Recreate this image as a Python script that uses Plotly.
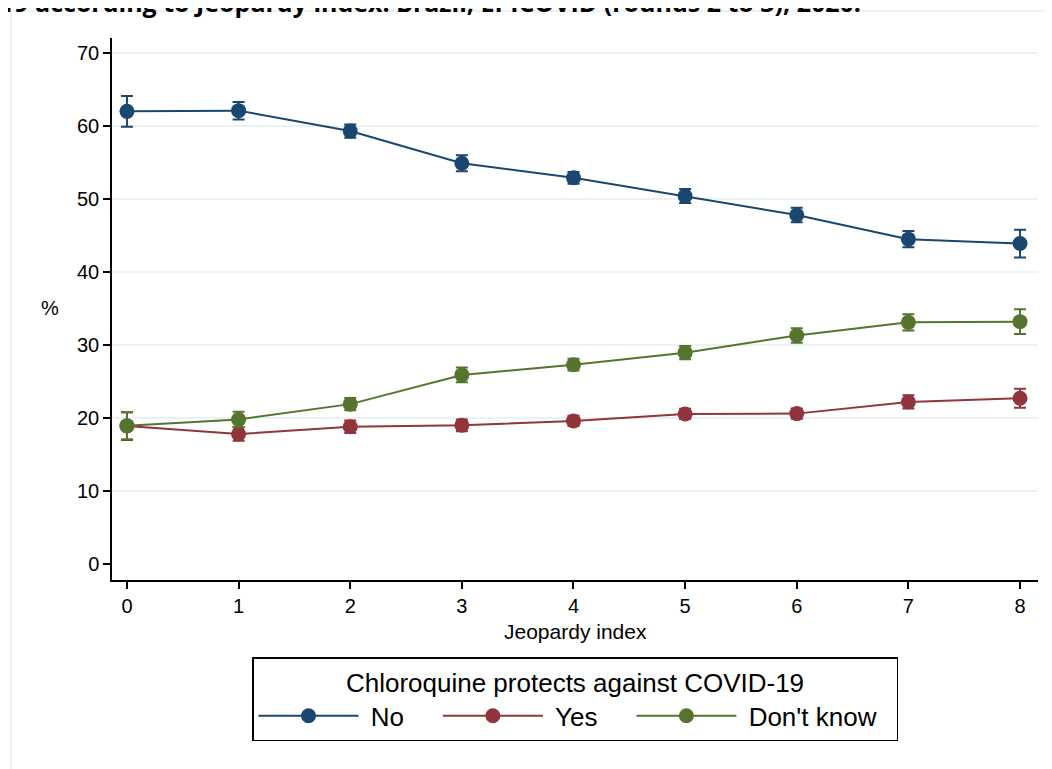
import plotly.graph_objects as go

jeopardy = [0, 1, 2, 3, 4, 5, 6, 7, 8]
no_vals = [62.0, 62.1, 59.3, 54.9, 52.9, 50.4, 47.8, 44.5, 43.9]
no_err = [2.1, 1.2, 0.9, 1.1, 0.8, 0.95, 1.0, 1.1, 1.9]
yes_vals = [18.9, 17.8, 18.8, 19.0, 19.6, 20.55, 20.6, 22.2, 22.7]
yes_err = [1.9, 0.9, 0.85, 0.8, 0.7, 0.7, 0.7, 0.9, 1.3]
dk_vals = [18.95, 19.8, 21.9, 25.9, 27.3, 28.95, 31.3, 33.1, 33.2]
dk_err = [1.85, 1.05, 0.85, 1.0, 0.8, 0.9, 1.0, 1.1, 1.7]

series_names = ["No", "Yes", "Don't know"]
colors = ["#1a476f", "#90353b", "#55752f"]
ytick_vals = [0, 10, 20, 30, 40, 50, 60, 70]
grid_vals = [10, 20, 30, 40, 50, 60, 70]

FONT = "Liberation Sans, Arial, sans-serif"
NB = "\u00a0"
# legend label padding (spacing only)
pads = [(1, 4), (1, 4), (1, 2)]

fig = go.Figure()
# invisible helper trace on yaxis2 to carry gridlines (no gridline at 0)
fig.add_trace(go.Scatter(x=[jeopardy[0]], y=[no_vals[0]], yaxis="y2", mode="markers",
                         marker=dict(opacity=0), showlegend=False, hoverinfo="skip"))
for name, vals, err, col, (pl, pr) in zip(series_names, [no_vals, yes_vals, dk_vals],
                                          [no_err, yes_err, dk_err], colors, pads):
    fig.add_trace(go.Scatter(
        x=jeopardy, y=vals, name=NB * pl + name + NB * pr, mode="lines+markers",
        line=dict(color=col, width=2),
        marker=dict(color=col, size=15, line=dict(width=0)),
        error_y=dict(type="data", array=err, visible=True, color=col, thickness=2, width=6),
    ))

OFF = 8  # page body margin
W, H = 1052, 769
# plot area in page pixels: x 112..1038, y 38..580
L = 112 - OFF
T = 38 - OFF
R = W - (1038 - OFF)
B = H - (580 - OFF)
pw, ph = W - L - R, H - T - B

def px_x(p):
    return (p - OFF - L) / pw

def px_y(p):
    return (H - B - (p - OFF)) / ph

fig.update_layout(
    width=W, height=H,
    margin=dict(l=L, r=R, t=T, b=B),
    paper_bgcolor="white", plot_bgcolor="white",
    font=dict(family=FONT, color="black"),
    xaxis=dict(range=[-0.134, 8.161], tickvals=jeopardy, ticks="outside", ticklen=7,
               tickwidth=1.5, tickcolor="black", showline=True, linecolor="black",
               linewidth=1.5, showgrid=False, zeroline=False,
               tickfont=dict(size=20, family=FONT)),
    yaxis=dict(range=[-2.19, 72.05], tickvals=ytick_vals, ticks="outside", ticklen=7,
               tickwidth=1.5, tickcolor="black", showline=True, linecolor="black",
               linewidth=1.5, showgrid=False, zeroline=False,
               tickfont=dict(size=20, family=FONT)),
    yaxis2=dict(range=[-2.19, 72.05], tickvals=grid_vals, overlaying="y", showgrid=True,
                gridcolor="#eaf2f3", gridwidth=2, showticklabels=False, ticks="",
                zeroline=False, showline=False),
    legend=dict(
        orientation="h", x=0.5, xanchor="center", y=px_y(657), yanchor="top",
        bordercolor="black", borderwidth=1.5, bgcolor="white",
        font=dict(size=26, family=FONT),
        title=dict(text="Chloroquine protects against COVID-19", side="top center",
                   font=dict(size=26, family=FONT)),
        itemwidth=100,
    ),
    showlegend=True,
)

fig.add_annotation(text="%", xref="paper", yref="paper", x=px_x(50), y=px_y(308),
                   showarrow=False, font=dict(size=20, family=FONT), xanchor="center", yanchor="middle")
fig.add_annotation(text="Jeopardy index", xref="paper", yref="paper", x=px_x(575), y=px_y(631),
                   showarrow=False, font=dict(size=21, family=FONT), xanchor="center", yanchor="middle")
fig.add_annotation(text="<b>19 according to Jeopardy index. Brazil, EPICOVID (rounds 2 to 3), 2020.</b>",
                   xref="paper", yref="paper", x=px_x(-2), y=px_y(21), showarrow=False,
                   font=dict(size=25, family="Open Sans"), xanchor="left", yanchor="bottom")
fig.add_shape(type="rect", xref="paper", yref="paper", x0=px_x(11), x1=px_x(1075),
              y0=px_y(800), y1=px_y(11), line=dict(color="#eaf2f3", width=2), layer="below")

fig.write_html("out.html")
